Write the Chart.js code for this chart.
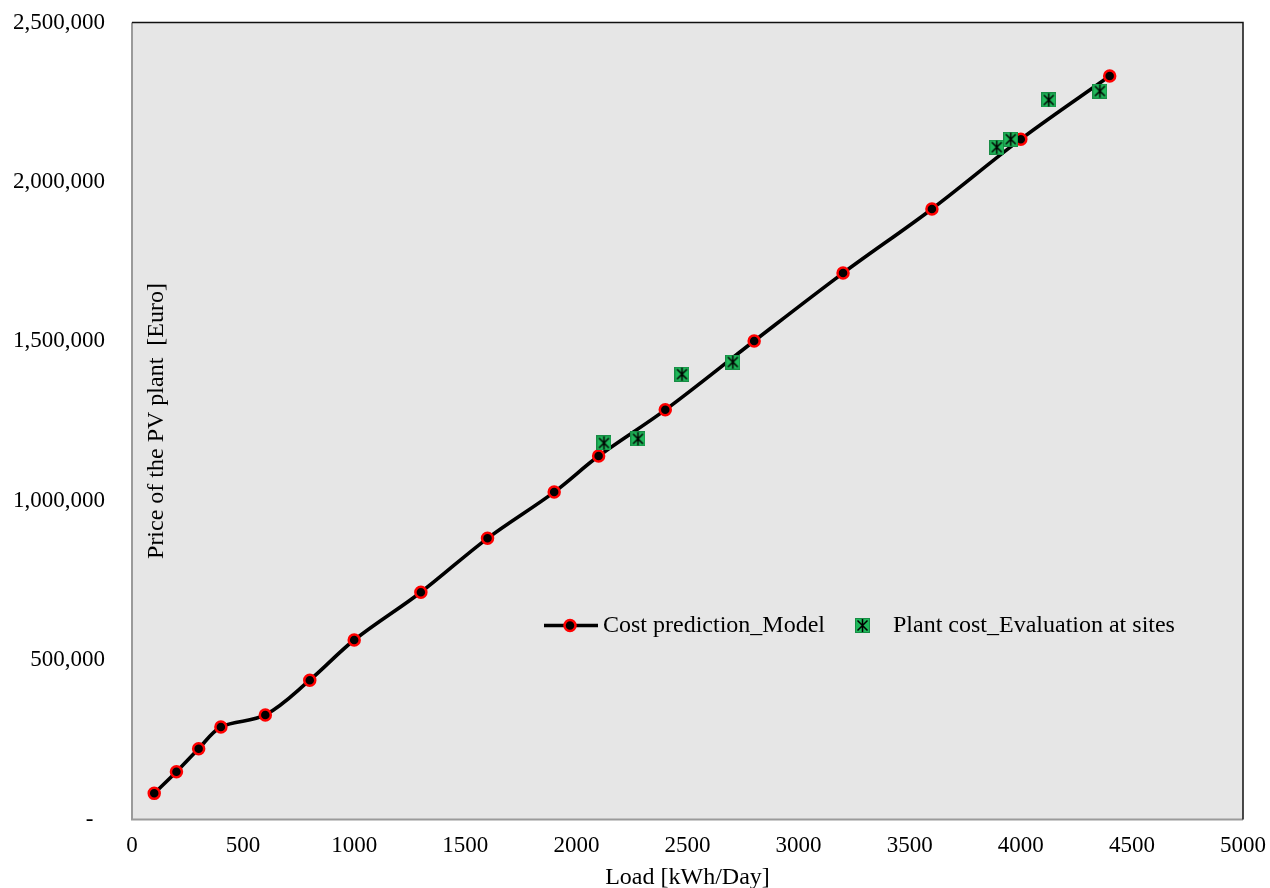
<!DOCTYPE html>
<html>
<head>
<meta charset="utf-8">
<script src="https://cdn.jsdelivr.net/npm/chart.js@4.4.1/dist/chart.umd.min.js"></script>
<style>
  body { margin: 0; background: #fff; }
  canvas { display: block; }
</style>
</head>
<body>
<canvas id="pvChart" width="1270" height="888"></canvas>
<script>
// ====== DATA ======
const modelLoad = [100, 200, 300, 400, 600, 800, 1000, 1300, 1600, 1900, 2100, 2400, 2800, 3200, 3600, 4000, 4400];
const modelCost = [82000, 150000, 222000, 290000, 328000, 437000, 563000, 713000, 882000, 1027000, 1140000, 1285000, 1501000, 1714000, 1915000, 2134000, 2332000];

const siteLoad = [2124, 2277, 2475, 2704, 3892, 3955, 4126, 4356];
const siteCost = [1181000, 1194000, 1397000, 1435000, 2109000, 2134000, 2257000, 2285000];

const xTicks = [0, 500, 1000, 1500, 2000, 2500, 3000, 3500, 4000, 4500, 5000];
const yTicks = [0, 500000, 1000000, 1500000, 2000000, 2500000];

const modelLabel = "Cost prediction_Model";
const siteLabel = "Plant cost_Evaluation at sites";
const xTitle = "Load [kWh/Day]";
const yTitle = "Price of the PV plant  [Euro]";

const FONT = "'Liberation Serif', 'Times New Roman', serif";

// green square marker with an asterisk (X + vertical bar)
function makeSiteMarker() {
  const c = document.createElement("canvas");
  c.width = 15; c.height = 15;
  const g = c.getContext("2d");
  g.fillStyle = "#1fb85a";
  g.fillRect(0, 0, 15, 15);
  g.strokeStyle = "rgba(20,110,55,0.6)";
  g.lineWidth = 1;
  g.strokeRect(0.5, 0.5, 14, 14);
  g.strokeStyle = "#000";
  g.lineWidth = 1.5;
  g.beginPath();
  g.moveTo(2.5, 2.5); g.lineTo(12.5, 12.5);
  g.moveTo(12.5, 2.5); g.lineTo(2.5, 12.5);
  g.moveTo(7.5, 1); g.lineTo(7.5, 14);
  g.stroke();
  return c;
}
const siteMarker = makeSiteMarker();

// plot background + frame
const plotFrame = {
  id: "plotFrame",
  beforeDatasetsDraw(chart) {
    const { ctx, chartArea: a } = chart;
    ctx.save();
    ctx.fillStyle = "#e6e6e6";
    ctx.fillRect(a.left, a.top, a.right - a.left, a.bottom - a.top);
    ctx.restore();
  },
  afterDatasetsDraw(chart) {
    const { ctx, chartArea: a } = chart;
    ctx.save();
    ctx.lineWidth = 2;
    ctx.strokeStyle = "#9a9a9a";
    ctx.beginPath();
    ctx.moveTo(a.left, a.top); ctx.lineTo(a.left, a.bottom); ctx.lineTo(a.right, a.bottom);
    ctx.stroke();
    ctx.strokeStyle = "#111";
    ctx.lineWidth = 1.5;
    ctx.beginPath();
    ctx.moveTo(a.left, a.top); ctx.lineTo(a.right, a.top); ctx.lineTo(a.right, a.bottom);
    ctx.stroke();
    ctx.restore();
  }
};

// y title and legend sit inside the plot area
const insideText = {
  id: "insideText",
  afterDraw(chart) {
    const { ctx, chartArea: a } = chart;
    ctx.save();
    ctx.fillStyle = "#000";
    ctx.font = "24px " + FONT;
    ctx.textBaseline = "middle";

    // y axis title
    ctx.save();
    ctx.translate(a.left + 25, (a.top + a.bottom) / 2);
    ctx.rotate(-Math.PI / 2);
    ctx.textAlign = "center";
    ctx.fillText(yTitle, 0, 0);
    ctx.restore();

    // legend
    const ly = a.top + 603;
    const lx = a.left + 412;
    ctx.strokeStyle = "#000";
    ctx.lineWidth = 3.5;
    ctx.beginPath();
    ctx.moveTo(lx, ly); ctx.lineTo(lx + 54, ly);
    ctx.stroke();
    ctx.beginPath();
    ctx.arc(lx + 26, ly, 5.5, 0, Math.PI * 2);
    ctx.fillStyle = "#000";
    ctx.fill();
    ctx.lineWidth = 2.5;
    ctx.strokeStyle = "#ff0000";
    ctx.stroke();
    ctx.fillStyle = "#000";
    ctx.textAlign = "left";
    ctx.fillText(modelLabel, lx + 59, ly);
    ctx.drawImage(siteMarker, lx + 311, ly - 7.5);
    ctx.fillText(siteLabel, lx + 349, ly);
    ctx.restore();
  }
};

const ctx = document.getElementById("pvChart").getContext("2d");
const chart = new Chart(ctx, {
  type: "scatter",
  data: {
    datasets: [
      {
        label: siteLabel,
        data: siteLoad.map((x, i) => ({ x: x, y: siteCost[i] })),
        pointStyle: siteMarker,
        pointRadius: 8,
        showLine: false,
        order: 0
      },
      {
        label: modelLabel,
        data: modelLoad.map((x, i) => ({ x: x, y: modelCost[i] })),
        showLine: true,
        borderColor: "#000",
        borderWidth: 3.6,
        tension: 0.35,
        pointRadius: 5.5,
        pointBorderWidth: 2.5,
        pointBackgroundColor: "#000",
        pointBorderColor: "#ff0000",
        order: 1
      }
    ]
  },
  options: {
    responsive: false,
    animation: false,
    layout: { padding: { top: 22.5, right: 27, left: 0, bottom: 0 } },
    plugins: {
      legend: { display: false },
      tooltip: { enabled: false }
    },
    scales: {
      x: {
        type: "linear",
        min: 0, max: 5000,
        afterBuildTicks: (s) => { s.ticks = xTicks.map(v => ({ value: v })); },
        afterFit: (s) => {
          s.height = 68.5;
          s.paddingLeft = 0; s.paddingRight = 0;
        },
        grid: { display: false, drawTicks: false },
        border: { display: false },
        ticks: {
          color: "#000",
          font: { family: FONT, size: 23 },
          padding: 13,
          maxRotation: 0,
          callback: (v) => String(v)
        },
        title: {
          display: true,
          text: xTitle,
          color: "#000",
          font: { family: FONT, size: 24, lineHeight: 1 },
          padding: { top: 0, bottom: -2 }
        }
      },
      y: {
        type: "linear",
        min: 0, max: 2500000,
        afterBuildTicks: (s) => { s.ticks = yTicks.map(v => ({ value: v })); },
        afterFit: (s) => {
          s.width = 132;
          s.paddingTop = 0; s.paddingBottom = 0;
        },
        grid: { display: false, drawTicks: false },
        border: { display: false },
        ticks: {
          color: "#000",
          font: { family: FONT, size: 23 },
          padding: 27,
          callback: (v) => v === 0 ? "-  " : v.toLocaleString("en-US")
        }
      }
    }
  },
  plugins: [plotFrame, insideText]
});
</script>
</body>
</html>
